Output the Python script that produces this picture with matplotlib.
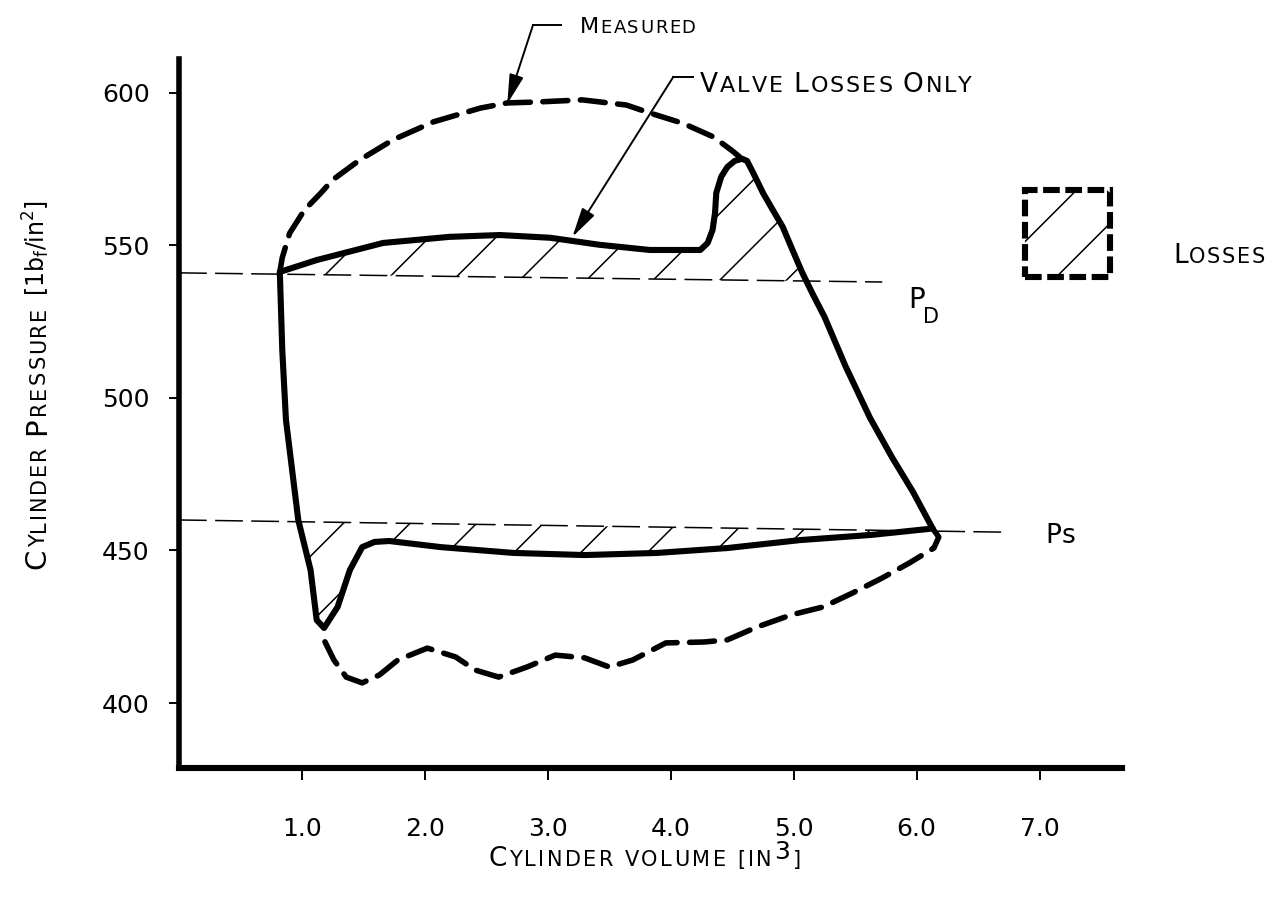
import numpy as np
import matplotlib
matplotlib.use("Agg")
import matplotlib.pyplot as plt
from matplotlib.patches import Rectangle
from matplotlib.transforms import IdentityTransform

plt.rcParams["font.family"] = ["DejaVu Sans"]
plt.rcParams["lines.scale_dashes"] = False
plt.rcParams["hatch.linewidth"] = 0.55
plt.rcParams["hatch.color"] = "black"

# valve losses only loop, upper branch (left corner -> spike -> right corner)
top_x = [0.82, 1.12, 1.66, 2.20, 2.61, 3.02, 3.42, 3.83, 4.24, 4.30, 4.34,
         4.36, 4.37, 4.41, 4.46, 4.52, 4.58, 4.62, 4.67, 4.75, 4.83, 4.91,
         4.99, 5.07, 5.16, 5.25, 5.42, 5.62, 5.80, 5.97, 6.13]
top_y = [541.3, 545.2, 550.8, 552.8, 553.4, 552.5, 550.2, 548.5, 548.5, 550.8,
         555.1, 560.7, 567.2, 572.5, 575.7, 577.7, 578.4, 577.7, 573.8, 567.2,
         561.6, 556.1, 548.5, 541.0, 533.6, 526.6, 510.5, 493.5, 480.5, 469.2,
         457.2]
# lower branch (left corner -> dip -> right corner)
bot_x = [0.82, 0.84, 0.87, 0.97, 1.07, 1.12, 1.18, 1.29, 1.39, 1.49, 1.59,
         1.71, 2.13, 2.72, 3.30, 3.89, 4.46, 5.05, 5.63, 6.13]
bot_y = [541.3, 515.7, 492.8, 460.0, 443.6, 427.2, 424.6, 431.5, 443.6, 451.1,
         452.8, 453.1, 451.1, 449.2, 448.5, 449.2, 450.8, 453.4, 455.1, 457.2]

# measured curve (dashed)
meas_top_x = [0.82, 0.84, 0.90, 1.02, 1.15, 1.25, 1.47, 1.74, 2.07, 2.45, 2.67,
              2.91, 3.28, 3.64, 3.83, 4.10, 4.35, 4.50, 4.56]
meas_top_y = [541.3, 546.0, 554.0, 561.6, 567.0, 571.5, 578.0, 584.6, 590.5,
              595.0, 596.7, 597.0, 597.7, 596.0, 593.4, 590.0, 585.5, 581.0, 579.0]
meas_bot_x = [6.13, 6.18, 6.14, 5.94, 5.72, 5.48, 5.24, 4.98, 4.70, 4.46, 4.27,
              3.96, 3.69, 3.50, 3.30, 3.06, 2.83, 2.60, 2.41, 2.25, 2.02, 1.78,
              1.63, 1.49, 1.36, 1.26, 1.16]
meas_bot_y = [457.2, 454.4, 450.8, 445.9, 441.0, 436.1, 431.5, 428.9, 424.9,
              420.7, 420.0, 419.7, 414.1, 411.8, 414.8, 415.7, 411.8, 408.5,
              410.8, 415.1, 418.0, 414.1, 409.2, 406.6, 408.5, 414.1, 422.3]

# discharge / suction pressure lines
pd_x = [0.0, 5.72]
pd_y = [541.0, 538.0]
ps_x = [0.0, 6.72]
ps_y = [460.0, 456.0]

xticks = [1, 2, 3, 4, 5, 6, 7]
xtick_labels = ["1.0", "2.0", "3.0", "4.0", "5.0", "6.0", "7.0"]
yticks = [400, 450, 500, 550, 600]

W, H = 1271, 899
fig = plt.figure(figsize=(W / 200, H / 200), dpi=200)
ax = fig.add_axes([179 / W, 1 - 768 / H, (1122 - 179) / W, (768 - 59) / H])
ax.set_xlim(0, 7.67)
ax.set_ylim(378.7, 611.1)

for s in ["top", "right"]:
    ax.spines[s].set_visible(False)
ax.spines["left"].set_linewidth(2.0)
ax.spines["bottom"].set_linewidth(2.2)

ax.set_xticks(xticks)
ax.set_xticklabels(xtick_labels)
ax.set_yticks(yticks)
ax.tick_params(axis="x", direction="out", length=4.3, width=0.7, pad=13.5, labelsize=9)
ax.tick_params(axis="y", direction="out", length=3.6, width=0.7, pad=7, labelsize=9)

thick = dict(color="k", lw=2.2, solid_capstyle="round", solid_joinstyle="round")
ax.plot(top_x, top_y, **thick)
ax.plot(bot_x, bot_y, **thick)
dash = dict(color="k", lw=2.0, dashes=(9, 4.5), dash_capstyle="round")
ax.plot(meas_top_x, meas_top_y, **dash)
ax.plot(meas_bot_x, meas_bot_y, **dash)
ax.plot(pd_x, pd_y, color="k", lw=0.55, dashes=(10, 3))
ax.plot(ps_x, ps_y, color="k", lw=0.55, dashes=(10, 3))

# hatched loss areas
xs = np.linspace(top_x[0], top_x[-1], 1000)
upper = np.interp(xs, top_x, top_y)
pd_line = np.interp(xs, pd_x, pd_y)
ax.fill_between(xs, pd_line, upper, where=upper > pd_line, interpolate=True,
                facecolor="none", edgecolor="k", hatch="/", linewidth=0)
xs2 = np.linspace(bot_x[0], bot_x[-1], 1000)
lower = np.interp(xs2, bot_x, bot_y)
ps_line = np.interp(xs2, ps_x, ps_y)
ax.fill_between(xs2, lower, ps_line, where=lower < ps_line, interpolate=True,
                facecolor="none", edgecolor="k", hatch="/", linewidth=0)

# legend box
ax.add_patch(Rectangle((6.88, 539.7), 0.69, 28.5, fill=False, hatch="/",
                       lw=2.2, linestyle=(0, (6, 2)), clip_on=False))

# leaders
head = "-|>,head_length=0.9,head_width=0.22"
ax.plot([3.11, 2.88], [622.3, 622.3], color="k", lw=0.7, clip_on=False)
ax.annotate("", xy=(2.67, 596.4), xytext=(2.88, 622.3), annotation_clip=False,
            arrowprops=dict(arrowstyle=head, color="k", lw=0.7,
                            mutation_scale=10, shrinkA=0, shrinkB=0))
ax.plot([4.18, 4.02], [605.2, 605.2], color="k", lw=0.7, clip_on=False)
ax.annotate("", xy=(3.20, 552.8), xytext=(4.02, 605.2), annotation_clip=False,
            arrowprops=dict(arrowstyle=head, color="k", lw=0.7,
                            mutation_scale=10, shrinkA=0, shrinkB=0))


def caps(x, y, pieces, rot=0, track=0.0):
    """Write spaced small caps from image pixel (x, y) on the baseline."""
    r = fig.canvas.get_renderer()
    y = H - y
    for s, size, rise in pieces:
        chars = [s] if "$" in s else list(s)
        for c in chars:
            if c == " ":
                step = size * 0.3 * fig.dpi / 72
            else:
                px, py = (x, y + rise) if rot == 0 else (x - rise, y)
                t = fig.text(px, py, c, transform=IdentityTransform(),
                             fontsize=size, rotation=rot, rotation_mode="anchor",
                             ha="left", va="baseline")
                bb = t.get_window_extent(r)
                step = bb.width if rot == 0 else bb.height
            step += track
            if rot == 0:
                x += step
            else:
                y += step


caps(45, 569, [("C", 10.5, 0), ("YLINDER", 7.5, 0), (" ", 7.5, 0), ("P", 10.5, 0),
               ("RESSURE", 7.5, 0), (" ", 7.5, 0),
               (r"[1b$_\mathregular{f}$/in$^\mathregular{2}$]", 8.5, 0)],
     rot=90, track=2)
caps(488, 866, [("C", 9.5, 0), ("YLINDER", 7.5, 0), (" ", 7.5, 0), ("VOLUME", 7.5, 0),
                (" ", 7.5, 0), ("[IN", 7.5, 0), ("3", 9, 7), ("]", 7.5, 0)],
     track=2.5)
caps(580, 33, [("M", 8, 0), ("EASURED", 6.5, 0)], track=1.5)
caps(700, 92, [("V", 9.5, 0), ("ALVE", 8, 0), (" ", 8, 0), ("L", 9.5, 0),
               ("OSSES", 8, 0), (" ", 8, 0), ("O", 9.5, 0), ("NLY", 8, 0)],
     track=2)
caps(1173, 263, [("L", 9.5, 0), ("OSSES", 7.5, 0)], track=1.5)
caps(908, 308, [("P", 10, 0)])
caps(923, 323, [("D", 7.5, 0)])
caps(1045, 543, [("Ps", 9.5, 0)], track=1)

fig.savefig("out.png", dpi=200)
